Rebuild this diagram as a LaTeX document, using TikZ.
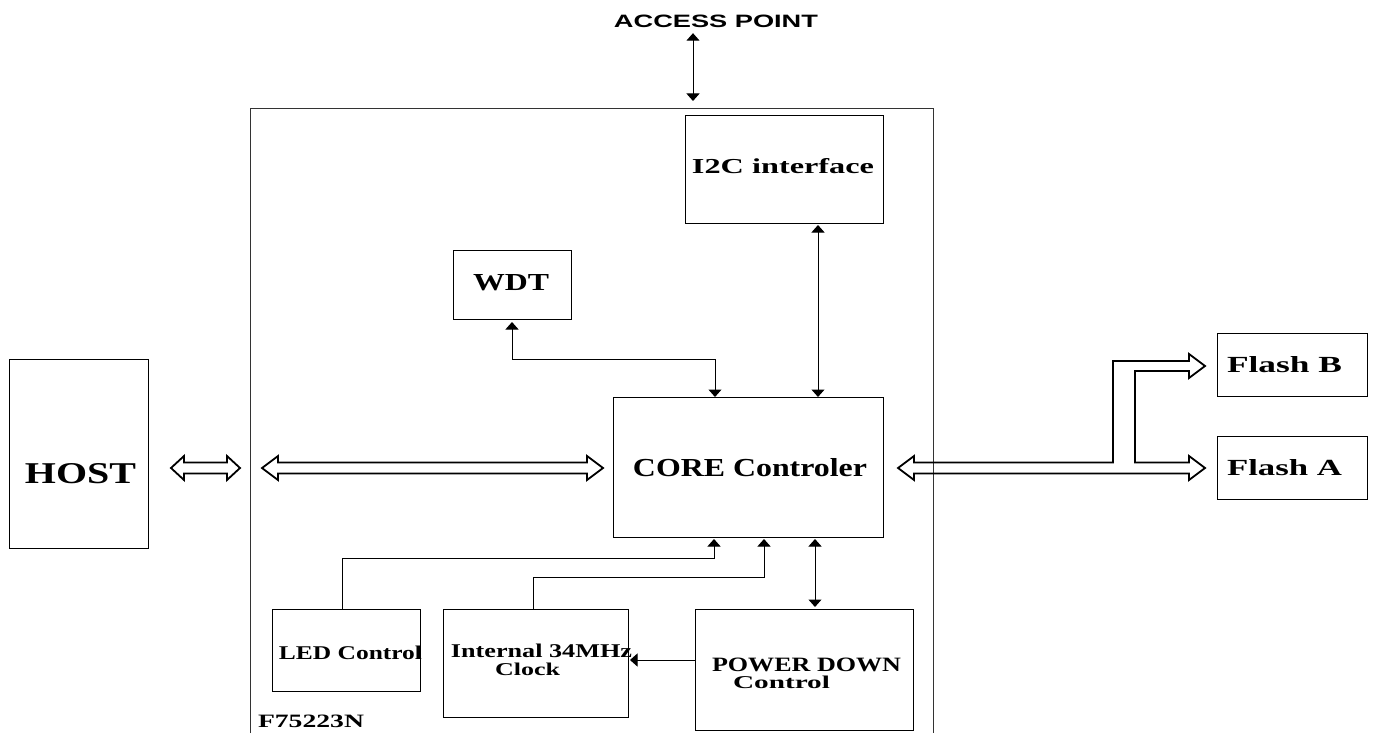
\documentclass[tikz,border=0pt]{standalone}
\usepackage{fontspec}
\setmainfont{Liberation Serif}
\newfontfamily\apfont{Liberation Sans}
\usepackage{graphicx}
\usetikzlibrary{arrows.meta,calc}
\newcommand{\fitt}[3]{\resizebox{#1pt}{#2pt}{#3}}
\newcommand{\hollowarrow}[4]{%
  \draw[bus] (#1,#3) -- ({#1+#4},{#3-12}) -- ({#1+#4},{#3-5.5}) -- ({#2-#4},{#3-5.5}) -- ({#2-#4},{#3-12}) -- (#2,#3) -- ({#2-#4},{#3+12}) -- ({#2-#4},{#3+5.5}) -- ({#1+#4},{#3+5.5}) -- ({#1+#4},{#3+12}) -- cycle;}
\begin{document}
\begin{tikzpicture}[x=1pt,y=-1pt,
  box/.style={draw, line width=1pt, inner sep=0pt, outer sep=0pt},
  lbl/.style={inner sep=0pt, outer sep=0pt, anchor=base, font=\bfseries},
  sig/.style={line width=1pt},
  tipend/.style={-{Triangle[width=13pt,length=7.5pt]}},
  dbl/.style={{Triangle[width=13pt,length=7.5pt]}-{Triangle[width=13pt,length=7.5pt]}},
  bus/.style={draw, line width=1.8pt, line join=miter}]
\path[use as bounding box] (0,0) rectangle (1375,733);

% chip outline
\draw[line width=1pt, black!80] (250,733) -- (250,109) -- (933,109) -- (933,733);

% boxes
\node[box, minimum width=139pt, minimum height=189pt] (host) at (78.5,453.5) {};
\node[box, minimum width=198pt, minimum height=107pt] (i2c) at (784,169.5) {};
\node[box, minimum width=118pt, minimum height=69pt] (wdt) at (512,284.5) {};
\node[box, minimum width=270pt, minimum height=140pt] (core) at (748,467) {};
\node[box, minimum width=150pt, minimum height=63pt] (flashB) at (1292,364.5) {};
\node[box, minimum width=150pt, minimum height=63pt] (flashA) at (1292,467.5) {};
\node[box, minimum width=148pt, minimum height=82pt] (led) at (346,650) {};
\node[box, minimum width=185pt, minimum height=108pt] (clock) at (535.5,663) {};
\node[box, minimum width=218pt, minimum height=121pt] (power) at (804,669.5) {};

% labels
\node[lbl, font=\apfont\bfseries] (ap) at (716,28) {\fitt{204}{12.5}{ACCESS POINT}};
\node[lbl] (thost) at (80.5,483) {\fitt{111}{20}{HOST}};
\node[lbl] (ti2c) at (783,173.5) {\fitt{182}{15}{I2C interface}};
\node[lbl] (twdt) at (511,290.5) {\fitt{76}{16}{WDT}};
\node[lbl] (tcore) at (750,476) {\fitt{234}{18}{CORE Controler}};
\node[lbl] (tfb) at (1284.5,372.5) {\fitt{115}{16}{Flash B}};
\node[lbl] (tfa) at (1284.5,475.5) {\fitt{115}{16}{Flash A}};
\node[lbl] (tled) at (350.5,659) {\fitt{143}{13.5}{LED Control}};
\node[lbl] (tclk1) at (541.5,657) {\fitt{181}{13.5}{Internal 34MHz}};
\node[lbl] (tclk2) at (527.5,675) {\fitt{65}{12.5}{Clock}};
\node[lbl] (tpw1) at (806.5,671) {\fitt{189}{13.5}{POWER DOWN}};
\node[lbl] (tpw2) at (781.5,688) {\fitt{97}{12.5}{Control}};
\node[lbl] (tchip) at (311,727) {\fitt{106}{12.5}{F75223N}};

% access point connector
\coordinate (apb) at (693,101);
\draw[sig, dbl, shorten <=5pt] ([xshift=-23pt]ap.south) -- (apb);

% signal connectors
\draw[sig, dbl, shorten <=2pt] ([xshift=34pt]i2c.south) -- ([xshift=70pt]core.north);
\draw[sig, dbl, shorten <=3pt] (wdt.south) -- ++(0,40) -| ([xshift=-33pt]core.north);
\draw[sig, tipend, shorten >=2pt] ([xshift=-4pt]led.north) -- ++(0,-51) -| ([xshift=-34pt]core.south);
\draw[sig, tipend, shorten >=2pt] ([xshift=-2.5pt]clock.north) -- ++(0,-32) -| ([xshift=16pt]core.south);
\draw[sig, dbl, shorten <=2pt, shorten >=2pt] ([xshift=67pt]core.south) -- ([xshift=11pt]power.north);
\draw[sig, tipend, shorten >=2pt] ([yshift=9.5pt]power.west) -- ([yshift=9.5pt]power.west -| clock.east);

% hollow bus arrows
\hollowarrow{171}{240}{468}{13}
\hollowarrow{262}{603}{468}{16}
\draw[bus] (898,468) -- (914,456) -- (914,462.5) -- (1113,462.5) -- (1113,361) -- (1189,361) -- (1189,354) -- (1205,366) -- (1189,378) -- (1189,371) -- (1135,371) -- (1135,462.5) -- (1189,462.5) -- (1189,456) -- (1205,468) -- (1189,480) -- (1189,473.5) -- (914,473.5) -- (914,480) -- cycle;
\end{tikzpicture}
\end{document}
